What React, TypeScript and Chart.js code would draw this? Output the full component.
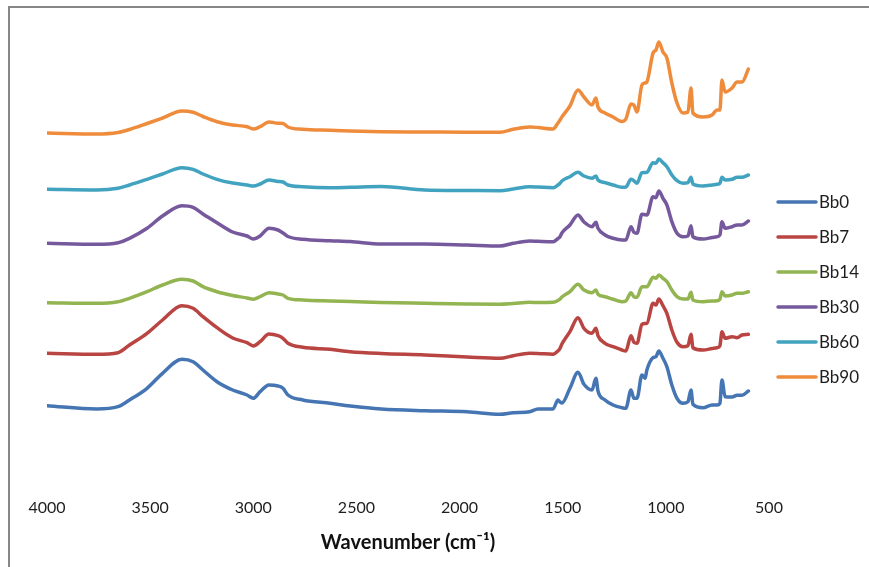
import { useEffect, useRef } from 'react';
import { Chart, registerables } from 'chart.js';

Chart.register(...registerables);

// Wavenumber axis (cm-1)
const wavenumbers = [
  4000, 3760, 3656, 3600, 3515, 3440, 3346, 3292, 3244, 3176, 3100, 3030, 3000, 2967, 2924, 2880, 2856, 2832,
  2760, 2628, 2530, 2380, 2168, 1964, 1804, 1740, 1660, 1620, 1547, 1523, 1513, 1504, 1465, 1426, 1397, 1358,
  1339, 1329, 1295, 1256, 1213, 1194, 1169, 1155, 1140, 1116, 1101, 1092, 1062, 1048, 1034, 1014, 995, 971,
  946, 917, 893, 878, 869, 820, 776, 752, 738, 728, 713, 679, 655, 631, 600,
];

// Absorbance (offset, a.u.)
const bb0 = [
  0.863, 0.83, 0.853, 0.92, 1.037, 1.187, 1.327, 1.303, 1.22, 1.103, 1.02, 0.97, 0.937, 1.003, 1.07, 1.06, 1.037, 0.97,
  0.92, 0.887, 0.86, 0.83, 0.813, 0.803, 0.777, 0.793, 0.803, 0.83, 0.83, 0.92, 0.9, 0.89, 1.037, 1.197, 1.077, 1.02,
  1.137, 1.01, 0.92, 0.87, 0.843, 0.837, 1.02, 0.937, 0.937, 1.17, 1.137, 1.22, 1.343, 1.353, 1.41, 1.337, 1.253, 1.07,
  0.937, 0.887, 0.903, 1.02, 0.877, 0.843, 0.87, 0.87, 0.887, 1.12, 0.953, 0.95, 0.967, 0.967, 1.01,
];
const bb7 = [
  1.387, 1.377, 1.393, 1.47, 1.587, 1.72, 1.863, 1.837, 1.753, 1.643, 1.54, 1.493, 1.46, 1.503, 1.58, 1.563, 1.537, 1.487,
  1.447, 1.427, 1.403, 1.385, 1.37, 1.35, 1.337, 1.363, 1.387, 1.385, 1.377, 1.41, 1.437, 1.48, 1.603, 1.743, 1.637, 1.587,
  1.637, 1.563, 1.487, 1.453, 1.42, 1.41, 1.563, 1.497, 1.487, 1.677, 1.685, 1.687, 1.887, 1.87, 1.93, 1.863, 1.787, 1.62,
  1.497, 1.453, 1.463, 1.577, 1.443, 1.42, 1.435, 1.443, 1.463, 1.603, 1.537, 1.553, 1.543, 1.57, 1.577,
];
const bb14 = [
  1.893, 1.887, 1.903, 1.937, 2.003, 2.07, 2.127, 2.11, 2.053, 2.003, 1.965, 1.94, 1.927, 1.953, 1.993, 1.98, 1.97, 1.937,
  1.92, 1.91, 1.905, 1.895, 1.887, 1.88, 1.877, 1.885, 1.897, 1.895, 1.897, 1.915, 1.93, 1.95, 2.003, 2.077, 2.02, 1.993,
  2.02, 1.977, 1.953, 1.927, 1.903, 1.91, 1.993, 1.953, 1.947, 2.053, 2.053, 2.053, 2.147, 2.137, 2.17, 2.137, 2.103, 2.02,
  1.953, 1.93, 1.93, 1.997, 1.92, 1.903, 1.91, 1.913, 1.927, 2.003, 1.96, 1.97, 1.987, 1.987, 2.003,
];
const bb30 = [
  2.487, 2.477, 2.493, 2.537, 2.637, 2.76, 2.863, 2.847, 2.78, 2.693, 2.6, 2.56, 2.53, 2.56, 2.637, 2.62, 2.59, 2.555,
  2.527, 2.513, 2.505, 2.48, 2.48, 2.47, 2.46, 2.487, 2.51, 2.507, 2.503, 2.535, 2.553, 2.59, 2.67, 2.77, 2.7, 2.653,
  2.697, 2.637, 2.57, 2.537, 2.52, 2.52, 2.653, 2.597, 2.587, 2.777, 2.773, 2.77, 2.953, 2.943, 3.01, 2.937, 2.87, 2.703,
  2.587, 2.553, 2.56, 2.663, 2.553, 2.53, 2.545, 2.553, 2.57, 2.703, 2.637, 2.653, 2.67, 2.67, 2.71,
];
const bb60 = [
  3.027, 3.02, 3.037, 3.07, 3.127, 3.18, 3.243, 3.227, 3.18, 3.127, 3.09, 3.07, 3.06, 3.08, 3.12, 3.105, 3.1, 3.07,
  3.053, 3.043, 3.047, 3.055, 3.02, 3.015, 3.013, 3.03, 3.053, 3.05, 3.043, 3.07, 3.087, 3.11, 3.153, 3.197, 3.16, 3.137,
  3.16, 3.12, 3.093, 3.07, 3.047, 3.05, 3.127, 3.113, 3.087, 3.193, 3.195, 3.197, 3.293, 3.287, 3.33, 3.293, 3.253, 3.17,
  3.113, 3.087, 3.093, 3.147, 3.08, 3.06, 3.07, 3.077, 3.087, 3.147, 3.12, 3.127, 3.147, 3.147, 3.17,
];
const bb90 = [
  3.59, 3.58, 3.595, 3.625, 3.685, 3.74, 3.81, 3.797, 3.755, 3.703, 3.67, 3.653, 3.63, 3.653, 3.7, 3.687, 3.685, 3.65,
  3.627, 3.617, 3.61, 3.603, 3.6, 3.597, 3.597, 3.627, 3.65, 3.645, 3.63, 3.69, 3.72, 3.75, 3.86, 4.02, 3.95, 3.87,
  3.94, 3.85, 3.79, 3.75, 3.705, 3.73, 3.88, 3.87, 3.8, 4.07, 4.09, 4.1, 4.39, 4.42, 4.5, 4.4, 4.34, 4.09,
  3.89, 3.79, 3.8, 4.04, 3.79, 3.75, 3.77, 3.82, 3.82, 4.12, 4.0, 4.04, 4.1, 4.1, 4.23,
];

const seriesNames = ['Bb0', 'Bb7', 'Bb14', 'Bb30', 'Bb60', 'Bb90'];
const seriesValues = [bb0, bb7, bb14, bb30, bb60, bb90];
const seriesColors = ['#4575B2', '#B94542', '#92B451', '#76599C', '#41A3C0', '#EE8C3C'];
const xTickValues = [4000, 3500, 3000, 2500, 2000, 1500, 1000, 500];

const FONT = 'Lato, "Open Sans", sans-serif';

const framePlugin = {
  id: 'frame',
  beforeDraw(chart: any) {
    const ctx = chart.ctx;
    ctx.save();
    ctx.fillStyle = '#ffffff';
    ctx.fillRect(0, 0, chart.width, chart.height);
    ctx.strokeStyle = '#878787';
    ctx.lineWidth = 2;
    ctx.beginPath();
    ctx.moveTo(9, chart.height);
    ctx.lineTo(9, 7);
    ctx.lineTo(chart.width, 7);
    ctx.stroke();
    ctx.restore();
  },
};

const sideLegendPlugin = {
  id: 'sideLegend',
  afterDraw(chart: any) {
    const ctx = chart.ctx;
    const x0 = chart.chartArea.right + 8;
    ctx.save();
    chart.data.datasets.forEach((ds: any, i: number) => {
      const y = 202 + i * 35;
      ctx.strokeStyle = ds.borderColor;
      ctx.lineWidth = 3.5;
      ctx.lineCap = 'round';
      ctx.beginPath();
      ctx.moveTo(x0 + 1, y);
      ctx.lineTo(x0 + 39, y);
      ctx.stroke();
      ctx.fillStyle = '#1e1e1e';
      ctx.font = `17px ${FONT}`;
      ctx.textBaseline = 'middle';
      ctx.textAlign = 'left';
      ctx.fillText(ds.label, x0 + 42, y + 1);
    });
    ctx.restore();
  },
};

export default function App() {
  const canvasRef = useRef<HTMLCanvasElement | null>(null);

  useEffect(() => {
    document.body.style.margin = '0';
    const canvas = canvasRef.current;
    if (!canvas) return;
    const chart = new Chart(canvas, {
      type: 'line',
      data: {
        datasets: seriesNames.map((name, s) => ({
          label: name,
          data: wavenumbers.map((w, i) => ({ x: w, y: seriesValues[s][i] })),
          borderColor: seriesColors[s],
          backgroundColor: seriesColors[s],
          borderWidth: 3.5,
          pointRadius: 0,
          cubicInterpolationMode: 'monotone' as const,
          fill: false,
          borderJoinStyle: 'round' as const,
          borderCapStyle: 'round' as const,
        })),
      },
      options: {
        responsive: false,
        animation: false,
        devicePixelRatio: 1,
        layout: { padding: { left: 47, right: 100, top: 12, bottom: 0 } },
        plugins: {
          legend: { display: false },
          tooltip: { enabled: false },
        },
        scales: {
          x: {
            type: 'linear',
            reverse: true,
            min: 500,
            max: 4000,
            afterBuildTicks: (scale: any) => {
              scale.ticks = xTickValues.map((v) => ({ value: v }));
            },
            afterFit: (scale: any) => {
              scale.height = 75;
            },
            grid: { display: false, drawTicks: false },
            border: { display: false },
            ticks: {
              padding: 6,
              color: '#1e1e1e',
              font: { family: FONT, size: 16 },
              maxRotation: 0,
              autoSkip: false,
              callback: (v: any) => String(v),
            },
            title: {
              display: true,
              text: 'Wavenumber (cm⁻¹)',
              color: '#111111',
              font: { family: FONT, size: 20, weight: 'bold' },
              padding: { top: 4, bottom: 12 },
            },
          },
          y: {
            display: false,
            min: 0,
            max: 4.8,
          },
        },
      },
      plugins: [framePlugin, sideLegendPlugin],
    });
    return () => chart.destroy();
  }, []);

  return (
    <div style={{ position: 'fixed', left: 0, top: 0, width: 869, height: 567, background: '#fff' }}>
      <canvas ref={canvasRef} width={869} height={567} style={{ display: 'block', width: 869, height: 567 }} />
    </div>
  );
}
